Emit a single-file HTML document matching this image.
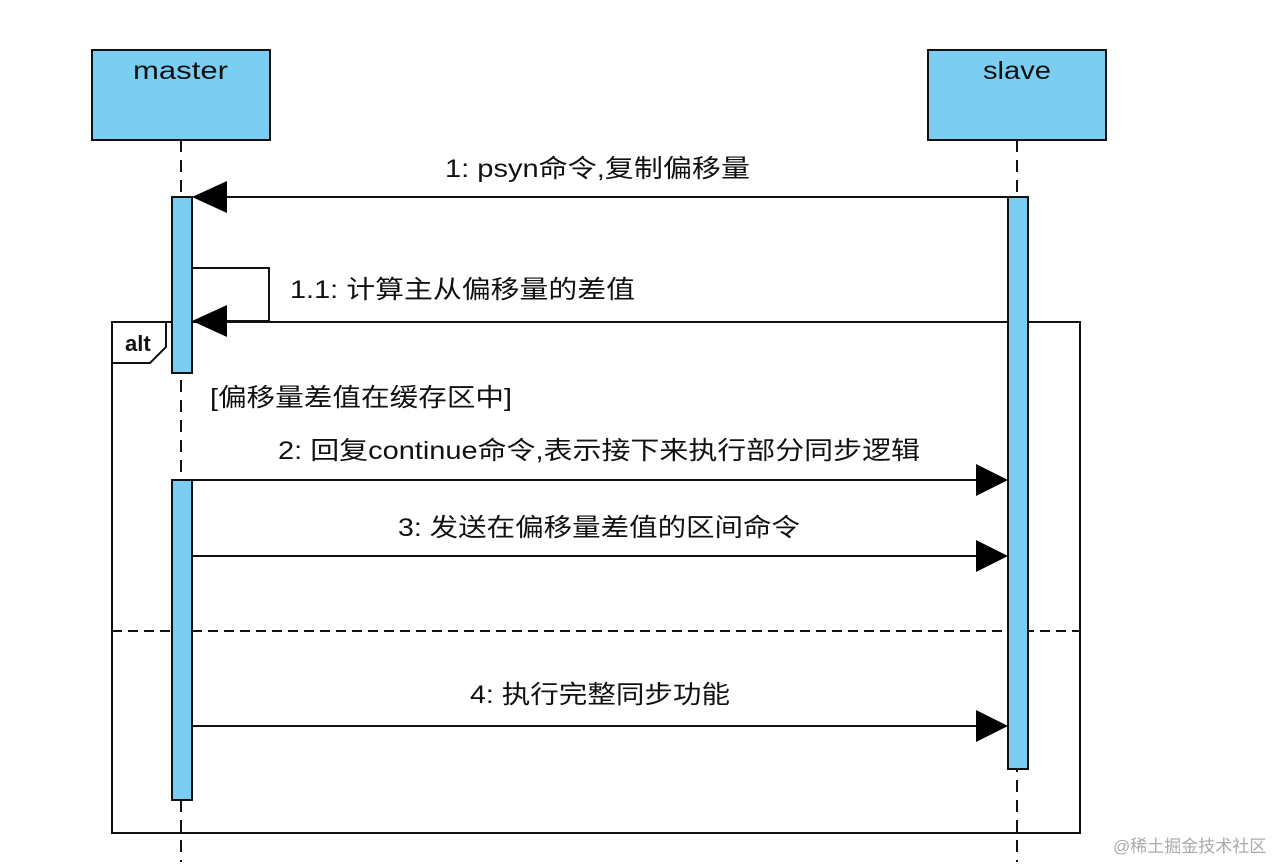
<!DOCTYPE html>
<html><head><meta charset="utf-8"><style>
html,body{margin:0;padding:0;background:#fff;}
svg text{font-family:"Liberation Sans","Noto Sans CJK SC",sans-serif;fill:#111;}
</style></head><body>
<svg width="1280" height="862" viewBox="0 0 1280 862" xmlns="http://www.w3.org/2000/svg">
<g stroke="#111" stroke-width="2" fill="none">
<line x1="181" y1="140" x2="181" y2="862" stroke-dasharray="12,8"/>
<line x1="1017" y1="140" x2="1017" y2="862" stroke-dasharray="12,8"/>
</g>
<rect x="92" y="50" width="178" height="90" fill="#7ccdf2" stroke="#111" stroke-width="2"/>
<rect x="928" y="50" width="178" height="90" fill="#7ccdf2" stroke="#111" stroke-width="2"/>
<text x="133" y="79" font-size="25" textLength="95" lengthAdjust="spacingAndGlyphs">master</text>
<text x="983" y="79" font-size="25" textLength="68" lengthAdjust="spacingAndGlyphs">slave</text>
<rect x="112" y="322" width="968" height="511" fill="none" stroke="#111" stroke-width="2"/>
<path d="M112 363 L150 363 L166 347 L166 322" fill="#fff" stroke="#111" stroke-width="2"/>
<text x="125" y="351" font-size="22" font-weight="bold">alt</text>
<line x1="112" y1="631" x2="1080" y2="631" stroke="#111" stroke-width="2" stroke-dasharray="10,6"/>
<rect x="172" y="197" width="20" height="176" fill="#7ccdf2" stroke="#111" stroke-width="2"/>
<rect x="172" y="480" width="20" height="320" fill="#7ccdf2" stroke="#111" stroke-width="2"/>
<rect x="1008" y="197" width="20" height="572" fill="#7ccdf2" stroke="#111" stroke-width="2"/>
<g stroke="#111" stroke-width="2" fill="none">
<line x1="1008" y1="197" x2="210" y2="197"/>
<polyline points="192,268 269,268 269,321 210,321"/>
<line x1="192" y1="480" x2="990" y2="480"/>
<line x1="192" y1="556" x2="990" y2="556"/>
<line x1="192" y1="726" x2="990" y2="726"/>
</g>
<g fill="#000">
<polygon points="192,197 227,181 227,213"/>
<polygon points="192,321 227,305 227,337"/>
<polygon points="1008,480 976,464 976,496"/>
<polygon points="1008,556 976,540 976,572"/>
<polygon points="1008,726 976,710 976,742"/>
</g>
<g font-size="25" lengthAdjust="spacingAndGlyphs">
<text x="445" y="177" textLength="305" lengthAdjust="spacingAndGlyphs">1: psyn命令,复制偏移量</text>
<text x="290" y="298" textLength="345" lengthAdjust="spacingAndGlyphs">1.1: 计算主从偏移量的差值</text>
<text x="210" y="406" textLength="302" lengthAdjust="spacingAndGlyphs">[偏移量差值在缓存区中]</text>
<text x="278" y="459" textLength="642" lengthAdjust="spacingAndGlyphs">2: 回复continue命令,表示接下来执行部分同步逻辑</text>
<text x="398" y="536" textLength="402" lengthAdjust="spacingAndGlyphs">3: 发送在偏移量差值的区间命令</text>
<text x="470" y="703" textLength="260" lengthAdjust="spacingAndGlyphs">4: 执行完整同步功能</text>
</g>
<text x="1113" y="852" font-size="17" style="fill:#aaa">@稀土掘金技术社区</text>
</svg>
</body></html>
